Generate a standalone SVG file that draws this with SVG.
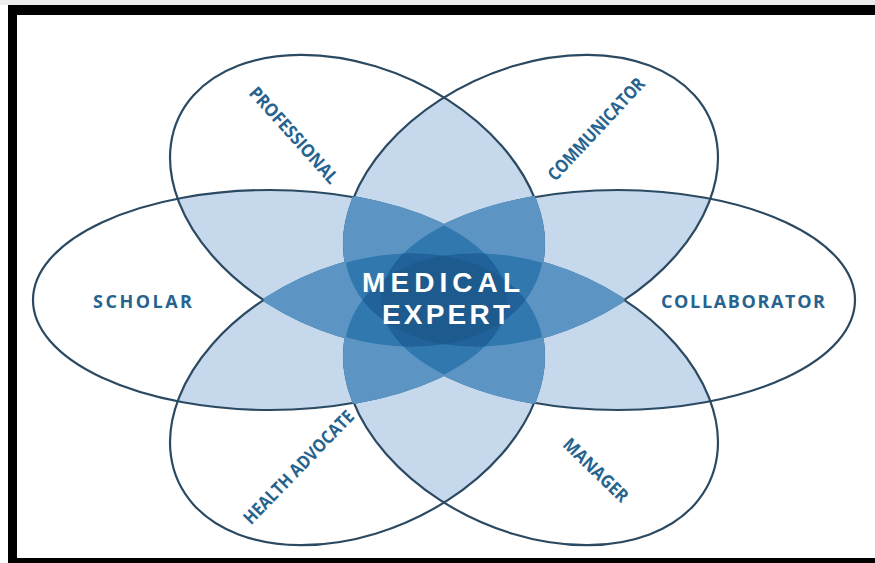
<svg xmlns="http://www.w3.org/2000/svg" width="875" height="563" viewBox="0 0 875 563">
<style>
.outline{fill:none;stroke:#2b4a62;stroke-width:2.2}
.l2{fill:#c6d9ec}.l3{fill:#5c95c4}.l4{fill:#3078ad}.l5{fill:#21629a}.l6{fill:#1d5b8f}
.role{font-family:"Open Sans","Liberation Sans",sans-serif;font-weight:700;font-size:18px;fill:#27638f}
.core{font-family:"Liberation Sans",Arial,sans-serif;font-weight:700;font-size:28px;fill:#ffffff}
</style>
<defs>
<!-- six petals in a round layout; the drawing squashes y by 0.6586 -->
<ellipse id="e0" cx="174" cy="0" rx="237" ry="167" vector-effect="non-scaling-stroke"/>
<ellipse id="e1" cx="87" cy="-150.7" rx="237" ry="167" transform="rotate(-60 87 -150.7)" vector-effect="non-scaling-stroke"/>
<ellipse id="e2" cx="-87" cy="-150.7" rx="237" ry="167" transform="rotate(60 -87 -150.7)" vector-effect="non-scaling-stroke"/>
<ellipse id="e3" cx="-174" cy="0" rx="237" ry="167" vector-effect="non-scaling-stroke"/>
<ellipse id="e4" cx="-87" cy="150.7" rx="237" ry="167" transform="rotate(-60 -87 150.7)" vector-effect="non-scaling-stroke"/>
<ellipse id="e5" cx="87" cy="150.7" rx="237" ry="167" transform="rotate(60 87 150.7)" vector-effect="non-scaling-stroke"/>
<clipPath id="c0"><use href="#e0"/></clipPath>
<clipPath id="c1"><use href="#e1"/></clipPath>
<clipPath id="c2"><use href="#e2"/></clipPath>
<clipPath id="c3"><use href="#e3"/></clipPath>
<clipPath id="c4"><use href="#e4"/></clipPath>
<clipPath id="c5"><use href="#e5"/></clipPath>
<filter id="grow" x="-10%" y="-10%" width="120%" height="120%"><feMorphology operator="dilate" radius="1.4 2.1"/></filter>
</defs>

<!-- page and frame -->
<rect x="0" y="0" width="875" height="563" fill="#ffffff"/>
<rect x="0" y="0" width="875" height="5" fill="#ececec"/>
<path d="M8 5H875V563H8Z M17 15V558H875V15Z" fill="#000000" fill-rule="evenodd"/>

<!-- areas shared by two petals -->
<g id="overlap-2" class="l2" transform="translate(444 300) scale(1 0.6586)">
<g clip-path="url(#c1)"><use href="#e0"/></g>
<g clip-path="url(#c2)"><use href="#e0"/></g>
<g clip-path="url(#c3)"><use href="#e0"/></g>
<g clip-path="url(#c4)"><use href="#e0"/></g>
<g clip-path="url(#c5)"><use href="#e0"/></g>
<g clip-path="url(#c2)"><use href="#e1"/></g>
<g clip-path="url(#c3)"><use href="#e1"/></g>
<g clip-path="url(#c4)"><use href="#e1"/></g>
<g clip-path="url(#c5)"><use href="#e1"/></g>
<g clip-path="url(#c3)"><use href="#e2"/></g>
<g clip-path="url(#c4)"><use href="#e2"/></g>
<g clip-path="url(#c5)"><use href="#e2"/></g>
<g clip-path="url(#c4)"><use href="#e3"/></g>
<g clip-path="url(#c5)"><use href="#e3"/></g>
<g clip-path="url(#c5)"><use href="#e4"/></g>
</g>

<!-- petals: outline and role label -->
<g id="collaborator">
<use href="#e0" class="outline" transform="translate(444 300) scale(1 0.6586)"/>
<text class="role" x="743" y="308" text-anchor="middle" textLength="164" lengthAdjust="spacing">COLLABORATOR</text>
</g>
<g id="communicator">
<use href="#e1" class="outline" transform="translate(444 300) scale(1 0.6586)"/>
<text class="role" transform="translate(596 129) rotate(-47)" x="0" y="6.5" text-anchor="middle" textLength="133" lengthAdjust="spacingAndGlyphs">COMMUNICATOR</text>
</g>
<g id="professional">
<use href="#e2" class="outline" transform="translate(444 300) scale(1 0.6586)"/>
<text class="role" transform="translate(294 135) rotate(48)" x="0" y="6.5" text-anchor="middle" textLength="123" lengthAdjust="spacingAndGlyphs">PROFESSIONAL</text>
</g>
<g id="scholar">
<use href="#e3" class="outline" transform="translate(444 300) scale(1 0.6586)"/>
<text class="role" x="142.5" y="308" text-anchor="middle" textLength="99" lengthAdjust="spacing">SCHOLAR</text>
</g>
<g id="health-advocate">
<use href="#e4" class="outline" transform="translate(444 300) scale(1 0.6586)"/>
<text class="role" transform="translate(298.5 467) rotate(-46)" x="0" y="6.5" text-anchor="middle" textLength="150" lengthAdjust="spacingAndGlyphs">HEALTH ADVOCATE</text>
</g>
<g id="manager">
<use href="#e5" class="outline" transform="translate(444 300) scale(1 0.6586)"/>
<text class="role" transform="translate(596 470) rotate(44)" x="0" y="6.5" text-anchor="middle" textLength="83" lengthAdjust="spacingAndGlyphs">MANAGER</text>
</g>

<!-- core: areas shared by three or more petals -->
<g id="medical-expert">
<g transform="translate(444 300) scale(1 0.6586)">
<g class="l3" filter="url(#grow)">
<g clip-path="url(#c1)"><g clip-path="url(#c2)"><use href="#e0"/></g></g>
<g clip-path="url(#c1)"><g clip-path="url(#c3)"><use href="#e0"/></g></g>
<g clip-path="url(#c1)"><g clip-path="url(#c4)"><use href="#e0"/></g></g>
<g clip-path="url(#c1)"><g clip-path="url(#c5)"><use href="#e0"/></g></g>
<g clip-path="url(#c2)"><g clip-path="url(#c3)"><use href="#e0"/></g></g>
<g clip-path="url(#c2)"><g clip-path="url(#c4)"><use href="#e0"/></g></g>
<g clip-path="url(#c2)"><g clip-path="url(#c5)"><use href="#e0"/></g></g>
<g clip-path="url(#c3)"><g clip-path="url(#c4)"><use href="#e0"/></g></g>
<g clip-path="url(#c3)"><g clip-path="url(#c5)"><use href="#e0"/></g></g>
<g clip-path="url(#c4)"><g clip-path="url(#c5)"><use href="#e0"/></g></g>
<g clip-path="url(#c2)"><g clip-path="url(#c3)"><use href="#e1"/></g></g>
<g clip-path="url(#c2)"><g clip-path="url(#c4)"><use href="#e1"/></g></g>
<g clip-path="url(#c2)"><g clip-path="url(#c5)"><use href="#e1"/></g></g>
<g clip-path="url(#c3)"><g clip-path="url(#c4)"><use href="#e1"/></g></g>
<g clip-path="url(#c3)"><g clip-path="url(#c5)"><use href="#e1"/></g></g>
<g clip-path="url(#c4)"><g clip-path="url(#c5)"><use href="#e1"/></g></g>
<g clip-path="url(#c3)"><g clip-path="url(#c4)"><use href="#e2"/></g></g>
<g clip-path="url(#c3)"><g clip-path="url(#c5)"><use href="#e2"/></g></g>
<g clip-path="url(#c4)"><g clip-path="url(#c5)"><use href="#e2"/></g></g>
<g clip-path="url(#c4)"><g clip-path="url(#c5)"><use href="#e3"/></g></g>
</g>
<g class="l4">
<g clip-path="url(#c1)"><g clip-path="url(#c2)"><g clip-path="url(#c3)"><use href="#e0"/></g></g></g>
<g clip-path="url(#c1)"><g clip-path="url(#c2)"><g clip-path="url(#c4)"><use href="#e0"/></g></g></g>
<g clip-path="url(#c1)"><g clip-path="url(#c2)"><g clip-path="url(#c5)"><use href="#e0"/></g></g></g>
<g clip-path="url(#c1)"><g clip-path="url(#c3)"><g clip-path="url(#c4)"><use href="#e0"/></g></g></g>
<g clip-path="url(#c1)"><g clip-path="url(#c3)"><g clip-path="url(#c5)"><use href="#e0"/></g></g></g>
<g clip-path="url(#c1)"><g clip-path="url(#c4)"><g clip-path="url(#c5)"><use href="#e0"/></g></g></g>
<g clip-path="url(#c2)"><g clip-path="url(#c3)"><g clip-path="url(#c4)"><use href="#e0"/></g></g></g>
<g clip-path="url(#c2)"><g clip-path="url(#c3)"><g clip-path="url(#c5)"><use href="#e0"/></g></g></g>
<g clip-path="url(#c2)"><g clip-path="url(#c4)"><g clip-path="url(#c5)"><use href="#e0"/></g></g></g>
<g clip-path="url(#c3)"><g clip-path="url(#c4)"><g clip-path="url(#c5)"><use href="#e0"/></g></g></g>
<g clip-path="url(#c2)"><g clip-path="url(#c3)"><g clip-path="url(#c4)"><use href="#e1"/></g></g></g>
<g clip-path="url(#c2)"><g clip-path="url(#c3)"><g clip-path="url(#c5)"><use href="#e1"/></g></g></g>
<g clip-path="url(#c2)"><g clip-path="url(#c4)"><g clip-path="url(#c5)"><use href="#e1"/></g></g></g>
<g clip-path="url(#c3)"><g clip-path="url(#c4)"><g clip-path="url(#c5)"><use href="#e1"/></g></g></g>
<g clip-path="url(#c3)"><g clip-path="url(#c4)"><g clip-path="url(#c5)"><use href="#e2"/></g></g></g>
</g>
<g class="l5">
<g clip-path="url(#c1)"><g clip-path="url(#c2)"><g clip-path="url(#c3)"><g clip-path="url(#c4)"><use href="#e0"/></g></g></g></g>
<g clip-path="url(#c1)"><g clip-path="url(#c2)"><g clip-path="url(#c3)"><g clip-path="url(#c5)"><use href="#e0"/></g></g></g></g>
<g clip-path="url(#c1)"><g clip-path="url(#c2)"><g clip-path="url(#c4)"><g clip-path="url(#c5)"><use href="#e0"/></g></g></g></g>
<g clip-path="url(#c1)"><g clip-path="url(#c3)"><g clip-path="url(#c4)"><g clip-path="url(#c5)"><use href="#e0"/></g></g></g></g>
<g clip-path="url(#c2)"><g clip-path="url(#c3)"><g clip-path="url(#c4)"><g clip-path="url(#c5)"><use href="#e0"/></g></g></g></g>
<g clip-path="url(#c2)"><g clip-path="url(#c3)"><g clip-path="url(#c4)"><g clip-path="url(#c5)"><use href="#e1"/></g></g></g></g>
</g>
<g class="l6">
<g clip-path="url(#c1)"><g clip-path="url(#c2)"><g clip-path="url(#c3)"><g clip-path="url(#c4)"><g clip-path="url(#c5)"><use href="#e0"/></g></g></g></g></g>
</g>
</g>
<text class="core" text-anchor="middle"><tspan x="441" y="292" textLength="158" lengthAdjust="spacing">MEDICAL</tspan><tspan x="446" y="323.5" textLength="128" lengthAdjust="spacing">EXPERT</tspan></text>
</g>
</svg>
